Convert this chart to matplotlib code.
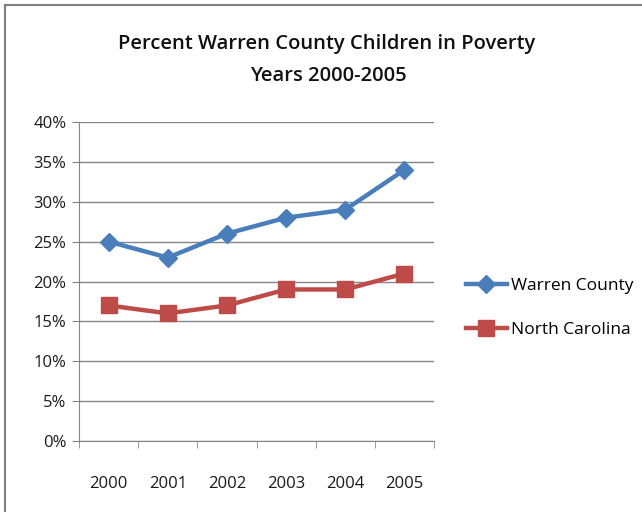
import matplotlib
matplotlib.use("Agg")
import matplotlib.pyplot as plt
from matplotlib.lines import Line2D

years = ["2000", "2001", "2002", "2003", "2004", "2005"]
warren_county = [25, 23, 26, 28, 29, 34]
north_carolina = [17, 16, 17, 19, 19, 21]
y_ticks = [0, 5, 10, 15, 20, 25, 30, 35, 40]

plt.rcParams['font.family'] = ['Open Sans', 'DejaVu Sans']

W, H = 642, 512
fig = plt.figure(figsize=(W / 100, H / 100), dpi=100)
fig.patch.set_facecolor("white")

# outer chart frame (left and top edges visible)
fig.add_artist(Line2D([5 / W, 5 / W], [0, 1 - 5 / H], color="#808080", lw=1.5))
fig.add_artist(Line2D([5 / W, 1], [1 - 5 / H, 1 - 5 / H], color="#808080", lw=1.5))

left, right, top, bottom = 79, 434, 122, 441
ax = fig.add_axes([left / W, 1 - bottom / H, (right - left) / W, (bottom - top) / H])

x = list(range(len(years)))
blue = "#4A7EBB"
red = "#BE4B48"
ax.plot(x, warren_county, color=blue, lw=3.2, marker="D", ms=9.5,
        markeredgecolor=blue, label="Warren County", zorder=3)
ax.plot(x, north_carolina, color=red, lw=3.2, marker="s", ms=11.5,
        markeredgecolor=red, label="North Carolina", zorder=3)

ax.set_xlim(-0.5, len(years) - 0.5)
ax.set_ylim(0, 40)
ax.set_yticks(y_ticks)
ax.set_yticklabels([f"{v}%" for v in y_ticks])
ax.set_xticks(x)
ax.set_xticklabels(years)
ax.set_xticks([i - 0.5 for i in range(len(years) + 1)], minor=True)

grid_c = "#868686"
ax.grid(axis="y", color=grid_c, lw=1)
ax.set_axisbelow(True)
for s in ["top", "right"]:
    ax.spines[s].set_visible(False)
ax.spines["left"].set_color(grid_c)
ax.spines["bottom"].set_color(grid_c)
ax.tick_params(axis="y", length=5, color=grid_c, labelsize=12, pad=4, labelcolor="#1a1a1a")
ax.tick_params(axis="x", which="major", length=0, labelsize=12, pad=25, labelcolor="#1a1a1a")
ax.tick_params(axis="x", which="minor", length=5, color=grid_c)

fig.text(327 / W, 1 - 44 / H, "Percent Warren County Children in Poverty",
         ha="center", va="center", fontsize=14.5, fontweight="semibold", color="#111111")
fig.text(328 / W, 1 - 76 / H, "Years 2000-2005",
         ha="center", va="center", fontsize=14.5, fontweight="semibold", color="#111111")

handles, labels = ax.get_legend_handles_labels()
fig.legend(handles, labels, loc="center left", bbox_to_anchor=(450 / W, 1 - 308 / H),
           frameon=False, fontsize=12.5, handlelength=2.4, labelspacing=1.6,
           handletextpad=0.2)

fig.savefig("out.png", dpi=100)
